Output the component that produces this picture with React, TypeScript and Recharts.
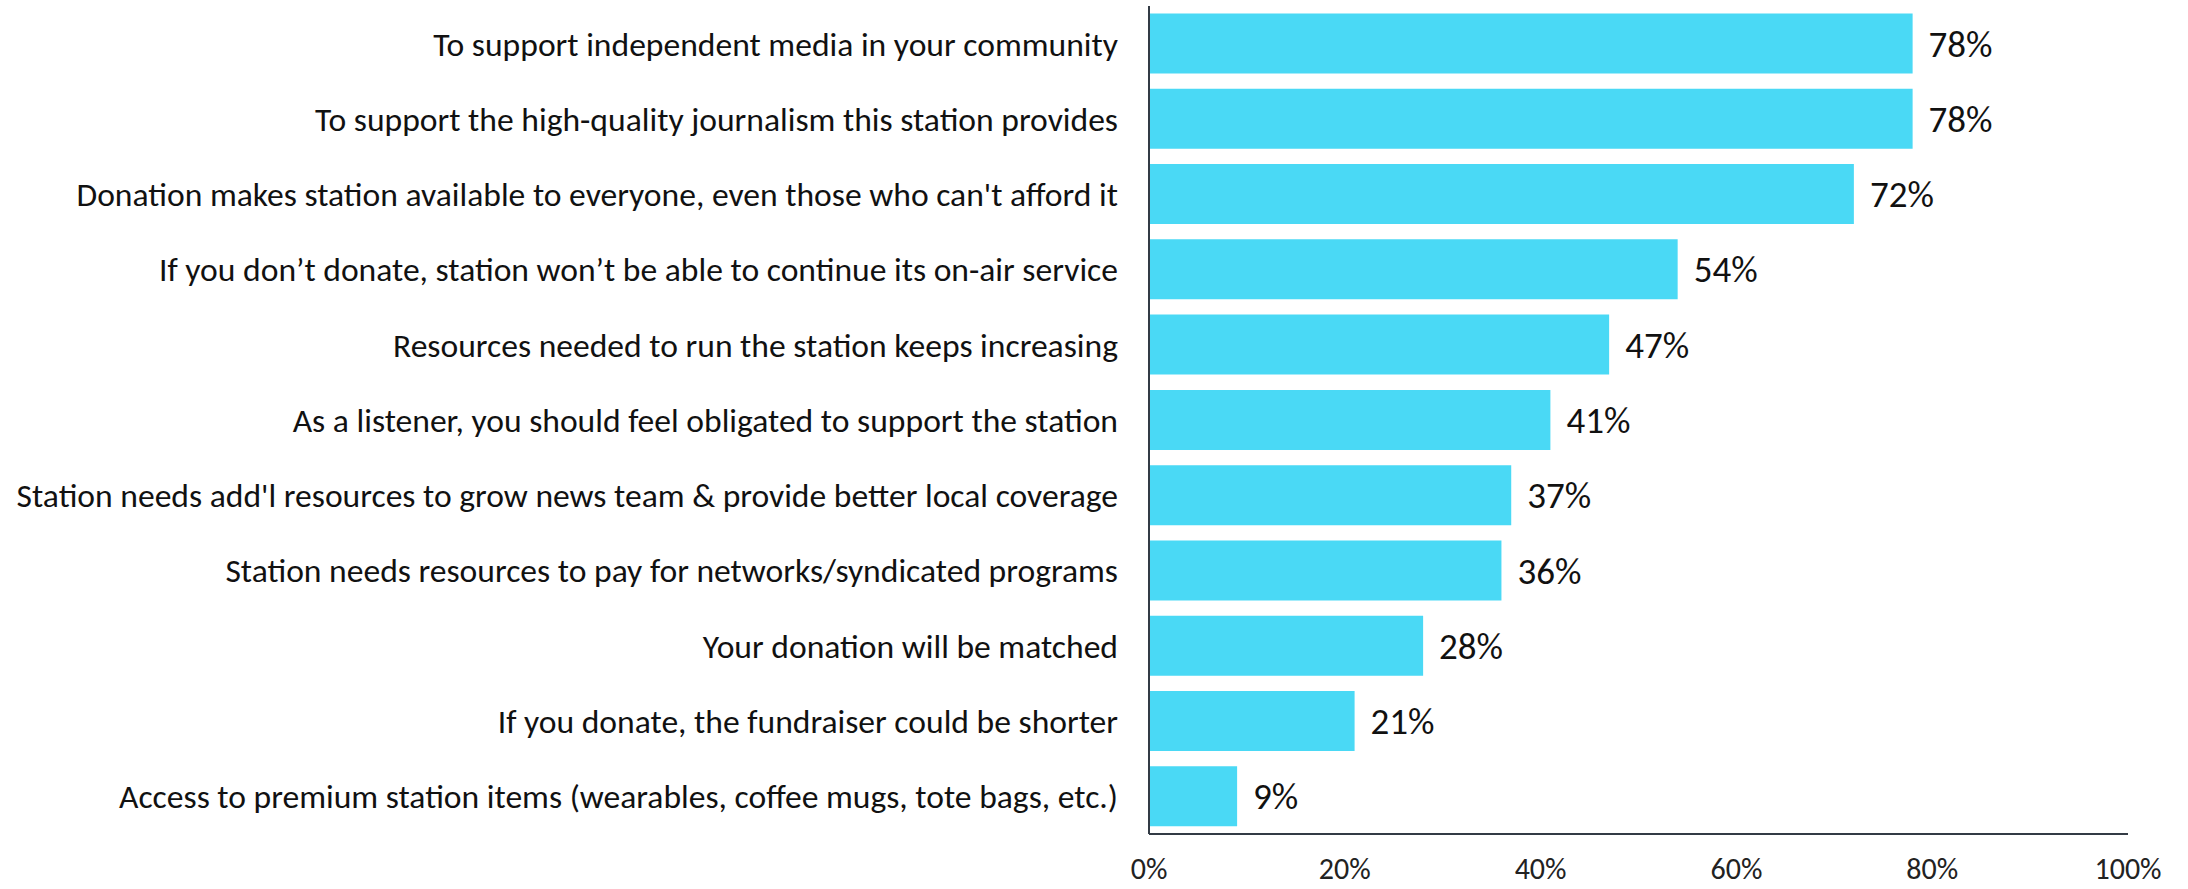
import React from 'react';
import { BarChart, Bar, XAxis, YAxis, LabelList } from 'recharts';

const reasons = [
  'To support independent media in your community',
  'To support the high-quality journalism this station provides',
  "Donation makes station available to everyone, even those who can't afford it",
  'If you don’t donate, station won’t be able to continue its on-air service',
  'Resources needed to run the station keeps increasing',
  'As a listener, you should feel obligated to support the station',
  "Station needs add'l resources to grow news team & provide better local coverage",
  'Station needs resources to pay for networks/syndicated programs',
  'Your donation will be matched',
  'If you donate, the fundraiser could be shorter',
  'Access to premium station items (wearables, coffee mugs, tote bags, etc.)',
];

const shares = [78, 78, 72, 54, 47, 41, 37, 36, 28, 21, 9];

const xTicks = [0, 20, 40, 60, 80, 100];

const data = reasons.map((reason, i) => ({ reason, value: shares[i] }));

const FONT = 'Calibri, Carlito, Lato, sans-serif';

export default function App() {
  return (
    <div style={{ width: 2188, height: 889, background: '#fff' }}>
      <style>{`body{margin:0}`}</style>
      <BarChart
        width={2188}
        height={889}
        data={data}
        layout="vertical"
        margin={{ top: 6, right: 60, bottom: 0, left: 0 }}
        barCategoryGap="10%"
      >
        <XAxis
          type="number"
          domain={[0, 100]}
          ticks={xTicks}
          tickFormatter={(v) => `${v}%`}
          height={55}
          tickLine={false}
          tickMargin={18}
          axisLine={{ stroke: '#333b45', strokeWidth: 2 }}
          tick={{ fill: '#222', fontSize: 30, fontFamily: FONT }}
          interval={0}
        />
        <YAxis
          type="category"
          dataKey="reason"
          width={1149}
          tickLine={false}
          tickMargin={25}
          axisLine={{ stroke: '#333b45', strokeWidth: 2 }}
          tick={{ fill: '#111', fontSize: 33.6, fontFamily: FONT }}
          interval={0}
        />
        <Bar dataKey="value" fill="#4ad9f5" isAnimationActive={false}>
          <LabelList
            dataKey="value"
            position="right"
            offset={16}
            formatter={(v: number) => `${v}%`}
            style={{ fill: '#111', fontSize: 37, fontFamily: FONT }}
          />
        </Bar>
      </BarChart>
    </div>
  );
}
